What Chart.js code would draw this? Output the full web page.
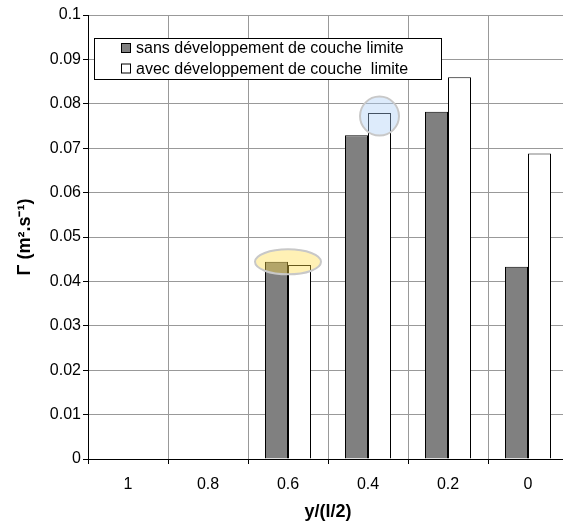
<!DOCTYPE html>
<html>
<head>
<meta charset="utf-8">
<script src="https://cdn.jsdelivr.net/npm/chart.js@4/dist/chart.umd.min.js"></script>
<style>
  html, body { margin: 0; padding: 0; background: #fff; overflow: hidden; }
  #wrap { width: 563px; height: 527px; overflow: hidden; }
</style>
</head>
<body>
<div id="wrap"><canvas id="c" width="575" height="527"></canvas></div>
<script>
// ── Data ──
var categories = ['1', '0.8', '0.6', '0.4', '0.2', '0'];
var sansCouche = [null, null, 0.0444, 0.0729, 0.0782, 0.0433];
var avecCouche = [null, null, 0.0437, 0.0779, 0.0860, 0.0688];
var seriesLabels = ['sans développement de couche limite', 'avec développement de couche  limite'];
var yTicks = [0, 0.01, 0.02, 0.03, 0.04, 0.05, 0.06, 0.07, 0.08, 0.09, 0.1];

var FONT = "'Liberation Sans', Arial, sans-serif";

// ── Legend box drawn inside the plot, like the original ──
var boxLegend = {
  id: 'boxLegend',
  afterDraw: function(chart) {
    var ctx = chart.ctx;
    var x0 = 94.5, y0 = 38.5, w = 347, h = 41;
    ctx.save();
    ctx.fillStyle = '#fff';
    ctx.fillRect(x0, y0, w, h);
    ctx.strokeStyle = '#000';
    ctx.lineWidth = 1;
    ctx.strokeRect(x0, y0, w, h);
    ctx.font = '16px ' + FONT;
    ctx.textBaseline = 'middle';
    chart.data.datasets.forEach(function(ds, i) {
      var cy = 48 + i * 20.5;
      ctx.fillStyle = ds.backgroundColor;
      ctx.fillRect(121.5, cy - 4.5, 9, 9);
      ctx.strokeStyle = '#000';
      ctx.strokeRect(121.5, cy - 4.5, 9, 9);
      ctx.fillStyle = '#000';
      ctx.fillText(ds.label, 136, cy + 1);
    });
    ctx.restore();
  }
};

// ── Highlight marks (yellow ellipse, blue circle) ──
var highlights = {
  id: 'highlights',
  afterDatasetsDraw: function(chart) {
    var ctx = chart.ctx;
    var xs = chart.scales.x, ys = chart.scales.y;
    var white = chart.getDatasetMeta(1).data[3];
    ctx.save();
    // yellow ellipse at the 0.6 group
    ctx.beginPath();
    ctx.ellipse(xs.getPixelForValue(2), ys.getPixelForValue(sansCouche[2]), 33, 12.5, 0, 0, Math.PI * 2);
    ctx.fillStyle = 'rgba(255, 220, 70, 0.4)';
    ctx.fill();
    ctx.strokeStyle = '#c8c8c8';
    ctx.lineWidth = 2;
    ctx.stroke();
    // blue circle at the 0.4 white bar
    ctx.beginPath();
    ctx.arc(white.x, ys.getPixelForValue(avecCouche[3]) + 3, 19.5, 0, Math.PI * 2);
    ctx.fillStyle = 'rgba(170, 205, 245, 0.4)';
    ctx.fill();
    ctx.strokeStyle = '#c8c8c8';
    ctx.lineWidth = 2;
    ctx.stroke();
    ctx.restore();
  }
};

new Chart(document.getElementById('c'), {
  type: 'bar',
  data: {
    labels: categories,
    datasets: [
      { label: seriesLabels[0], data: sansCouche, backgroundColor: '#808080', borderColor: '#000', borderWidth: 1 },
      { label: seriesLabels[1], data: avecCouche, backgroundColor: '#ffffff', borderColor: '#000', borderWidth: 1 }
    ]
  },
  options: {
    responsive: false,
    animation: false,
    layout: { padding: { top: 15, right: 7, left: 0, bottom: 0 } },
    datasets: { bar: { categoryPercentage: 0.575, barPercentage: 1 } },
    plugins: { legend: { display: false }, tooltip: { enabled: false } },
    scales: {
      x: {
        grid: { offset: true, color: '#999', tickLength: 5, tickColor: '#000' },
        border: { color: '#000' },
        ticks: { color: '#000', padding: 11, font: { size: 16, family: FONT } },
        title: { display: true, text: 'y/(l/2)', color: '#000', padding: { top: 2, bottom: 4 }, font: { size: 18, weight: 'bold', family: FONT } },
        afterFit: function(s) { s.height = 68; }
      },
      y: {
        min: 0, max: 0.1,
        afterBuildTicks: function(s) { s.ticks = yTicks.map(function(v) { return { value: v }; }); },
        grid: { color: '#999', tickLength: 5, tickColor: '#000' },
        border: { color: '#000' },
        ticks: { color: '#000', padding: 2, font: { size: 16, family: FONT },
          callback: function(v) { return String(parseFloat(v.toFixed(2))); } },
        title: { display: true, text: 'Γ (m².s⁻¹)', color: '#000', padding: { top: 14, bottom: 0 }, font: { size: 18, weight: 'bold', family: FONT } },
        afterFit: function(s) { s.width = 88; }
      }
    }
  },
  plugins: [highlights, boxLegend]
});
</script>
</body>
</html>
